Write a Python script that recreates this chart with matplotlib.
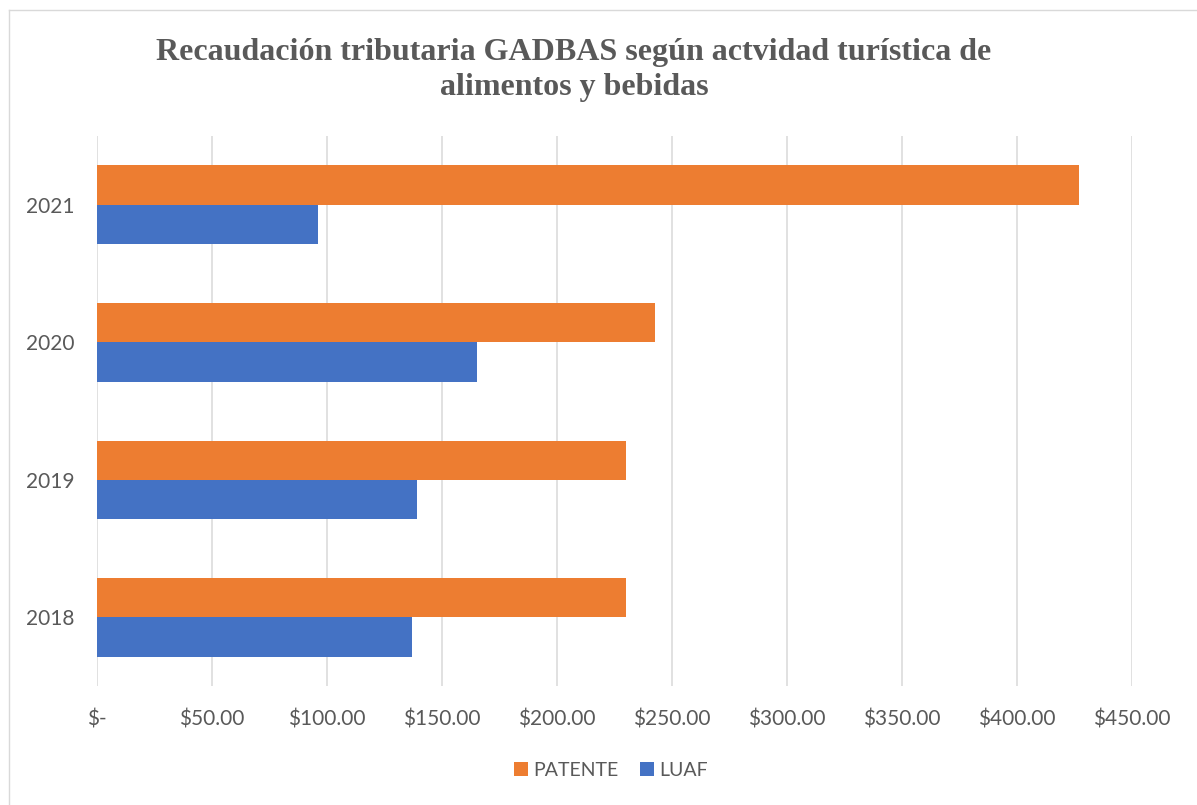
import numpy as np
import matplotlib
matplotlib.use('Agg')
import matplotlib.pyplot as plt
from matplotlib.lines import Line2D

# datos
years = ['2018', '2019', '2020', '2021']
patente = [230.2, 230.2, 242.8, 426.8]
luaf = [137.1, 139.3, 165.3, 96.2]
xticks = [0, 50, 100, 150, 200, 250, 300, 350, 400, 450]

orange = '#ED7D31'
blue = '#4472C4'
grey_txt = '#595959'
grid_col = '#D9D9D9'

fig = plt.figure(figsize=(11.97, 8.05), dpi=100)
ax = fig.add_axes([0.0808, 0.1475, 0.9457 - 0.0808, 0.8312 - 0.1475])

y = np.arange(len(years))
h = 0.286
ax.barh(y + h / 2, patente, height=h, color=orange, label='PATENTE', zorder=3)
ax.barh(y - h / 2, luaf, height=h, color=blue, label='LUAF', zorder=3)

ax.set_xlim(0, 450)
ax.set_ylim(-0.5, 3.5)
ax.set_xticks(xticks)
ax.set_xticklabels(['$-'] + ['$%.2f' % v for v in xticks[1:]])
ax.set_yticks(y)
ax.set_yticklabels(years)

for s in ax.spines.values():
    s.set_visible(False)
ax.grid(axis='x', color=grid_col, linewidth=1.1, zorder=0)
ax.tick_params(axis='both', length=0, colors=grey_txt, labelsize=15)
ax.tick_params(axis='x', pad=16.5)
ax.tick_params(axis='y', pad=16)
for lab in ax.get_xticklabels() + ax.get_yticklabels():
    lab.set_family(['Lato', 'DejaVu Sans'])

# titulo
fig.text(574 / 1197, 1 - 70 / 805,
         'Recaudación tributaria GADBAS según actvidad turística de\nalimentos y bebidas',
         ha='center', va='center', fontsize=23, fontweight='bold',
         family=['Liberation Serif', 'DejaVu Serif'], color=grey_txt,
         linespacing=1.27)

# leyenda
leg = fig.legend(loc='center', bbox_to_anchor=(611 / 1197, 1 - 770 / 805), ncol=2,
                 frameon=False, handlelength=0.7, handleheight=0.7,
                 handletextpad=0.3, columnspacing=1.1,
                 prop={'family': ['Lato', 'DejaVu Sans'], 'size': 14})
for t in leg.get_texts():
    t.set_color(grey_txt)

# marco exterior
fig.add_artist(Line2D([9 / 1197, 9 / 1197], [0, 1 - 10 / 805], transform=fig.transFigure,
                      color=grid_col, linewidth=1.0))
fig.add_artist(Line2D([9 / 1197, 1], [1 - 10 / 805, 1 - 10 / 805], transform=fig.transFigure,
                      color=grid_col, linewidth=1.0))

fig.savefig('out.png', dpi=100)
